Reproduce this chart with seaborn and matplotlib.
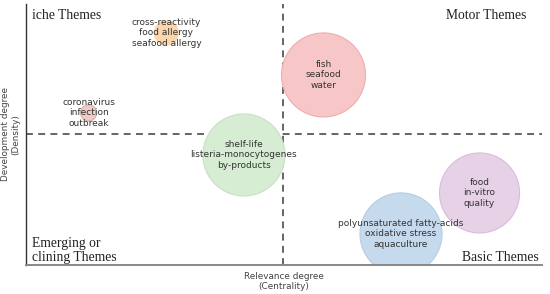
import pandas as pd
import matplotlib.pyplot as plt
import seaborn as sns

# Clusters of the strategic diagram
themes = ["cross-reactivity\nfood allergy\nseafood allergy",
          "coronavirus\ninfection\noutbreak",
          "shelf-life\nlisteria-monocytogenes\nby-products",
          "fish\nseafood\nwater",
          "polyunsaturated fatty-acids\noxidative stress\naquaculture",
          "food\nin-vitro\nquality"]
centrality = [-0.453, -0.756, -0.151, 0.159, 0.461, 0.767]
density = [0.778, 0.165, -0.157, 0.456, -0.762, -0.448]
cluster_size = [300, 135, 3490, 3660, 3490, 3320]

colors = ["#f9d6ab", "#ecccc4", "#d6ecd3", "#f7c6c7", "#c6daed", "#e6d1e7"]
edges = ["#f9d6ab", "#dcb0a8", "#c8e2c4", "#eeaeb0", "#b5cde4", "#d9bcdb"]

df = pd.DataFrame({"theme": themes, "x": centrality, "y": density, "size": cluster_size})

sns.set_style("white")
fig = plt.figure(figsize=(5.5, 2.94), dpi=100)
ax = fig.add_axes([0.0473, 0.0986, 0.938, 0.888])

sns.scatterplot(data=df, x="x", y="y", hue="theme", size="size",
                palette=dict(zip(themes, colors)),
                sizes={s: s for s in cluster_size},
                legend=False, ax=ax, linewidth=0.8, zorder=2)
ax.collections[0].set_edgecolor(edges)

ax.set_xlim(-1, 1.01)
ax.set_ylim(-1, 1)

# quadrant separators
ax.axhline(0, color="#3a3a3a", lw=1.1, ls=(0, (4.5, 3.5)), zorder=1, clip_on=False)
ax.axvline(0, color="#3a3a3a", lw=1.1, ls=(0, (4.5, 3.5)), zorder=1)

for t, x, y in zip(themes, centrality, density):
    ax.text(x, y, t, ha="center", va="center", fontsize=6.5, color="#333333",
            linespacing=1.25, zorder=3)

serif = "Liberation Serif"
ax.text(0.012, 0.955, "iche Themes", transform=ax.transAxes, fontsize=9.8,
        family=serif, color="#222222", va="center")
ax.text(0.97, 0.955, "Motor Themes", transform=ax.transAxes, fontsize=9.8,
        family=serif, color="#222222", va="center", ha="right")
ax.text(0.012, 0.005, "Emerging or\nclining Themes", transform=ax.transAxes,
        fontsize=9.8, family=serif, color="#222222", va="bottom", linespacing=1.1)
ax.text(0.993, 0.005, "Basic Themes", transform=ax.transAxes, fontsize=9.8,
        family=serif, color="#222222", va="bottom", ha="right")

ax.set_xlabel("Relevance degree\n(Centrality)", fontsize=6.4, color="#444444",
              labelpad=5, linespacing=1.2)
ax.set_ylabel("Development degree\n(Density)", fontsize=6.4, color="#444444",
              labelpad=4, linespacing=1.2)
ax.set_xticks([])
ax.set_yticks([])

sns.despine(ax=ax)
ax.spines["left"].set_color("#333333")
ax.spines["left"].set_linewidth(1.0)
ax.spines["bottom"].set_color("#888888")
ax.spines["bottom"].set_linewidth(1.4)

fig.savefig("out.png", dpi=100)
